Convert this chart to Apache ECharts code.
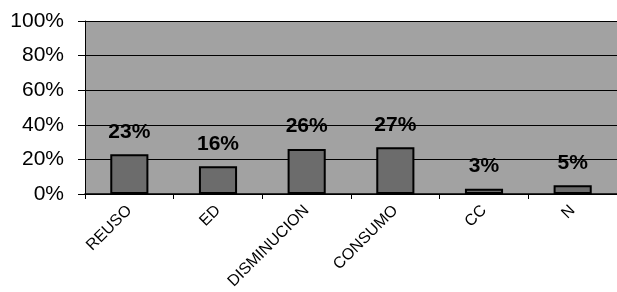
<!DOCTYPE html>
<html>
<head>
<meta charset="utf-8">
<script src="https://cdn.jsdelivr.net/npm/echarts@6/dist/echarts.min.js"></script>
<style>
  html, body { margin: 0; padding: 0; background: #fff; }
  #chart { width: 617px; height: 292px; }
</style>
</head>
<body>
<div id="chart"></div>
<script>
const categories = ["REUSO", "ED", "DISMINUCION", "CONSUMO", "CC", "N"];
const percentValues = [23, 16, 26, 27, 3, 5];
const yTicks = [0, 20, 40, 60, 80, 100];

const chart = echarts.init(document.getElementById("chart"));

const option = {
    backgroundColor: "#ffffff",
    animation: false,
    grid: {
        left: 85,
        top: 21,
        width: 538,
        height: 173,
        show: true,
        backgroundColor: "#a2a2a2",
        borderWidth: 0,
    },
    xAxis: {
        type: "category",
        data: categories,
        axisLine: { lineStyle: { color: "#000", width: 1.5 } },
        axisTick: { show: true, length: 5, lineStyle: { color: "#000" } },
        axisLabel: {
            rotate: 45,
            color: "#000",
            fontFamily: "Liberation Sans, Arial, sans-serif",
            fontSize: 16,
            margin: 14,
        },
    },
    yAxis: {
        type: "value",
        min: yTicks[0],
        max: yTicks[yTicks.length - 1],
        interval: 20,
        axisLine: { show: true, lineStyle: { color: "#000" } },
        axisTick: { show: true, length: 7, lineStyle: { color: "#000" } },
        axisLabel: {
            color: "#000",
            fontFamily: "Liberation Sans, Arial, sans-serif",
            fontSize: 21,
            margin: 21,
            formatter: (v) => v + "%",
        },
        splitLine: { show: true, lineStyle: { color: "#000", width: 1.2 } },
    },
    series: [
        {
            type: "bar",
            data: percentValues,
            barWidth: "43%",
            itemStyle: {
                color: "#6c6c6c",
                borderColor: "#000",
                borderWidth: 2,
            },
            label: {
                show: true,
                position: "top",
                distance: 12,
                color: "#000",
                fontWeight: "bold",
                fontFamily: "Liberation Sans, Arial, sans-serif",
                fontSize: 21,
                formatter: (p) => p.value + "%",
            },
        },
    ],
};

chart.setOption(option);
</script>
</body>
</html>
